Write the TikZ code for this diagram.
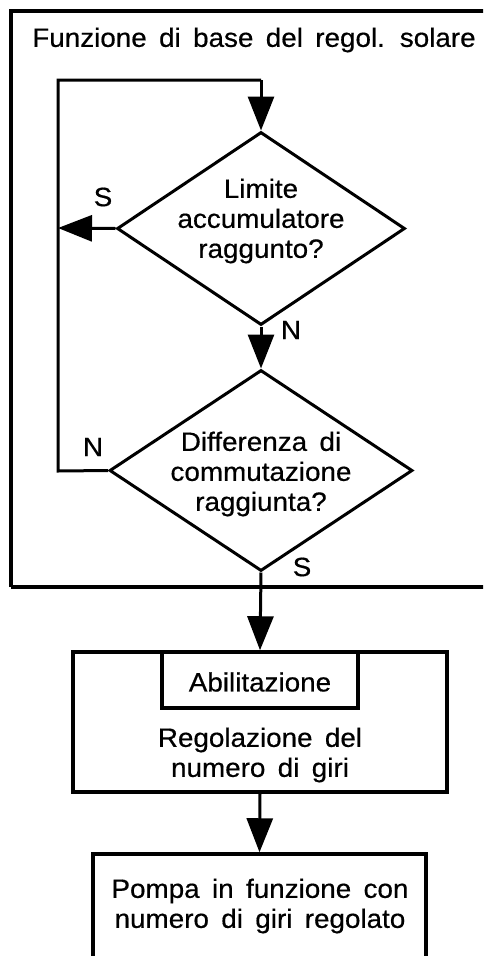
\documentclass[tikz,border=0pt]{standalone}
\usepackage{fontspec}
\setmainfont{Liberation Sans}[FakeStretch=1.05, WordSpace=1.6, FakeBold=0.5]
\usetikzlibrary{arrows.meta,shapes.geometric}
\begin{document}
\begin{tikzpicture}[x=1pt,y=-1pt,
  txt/.style={font=\fontsize{26.5}{30}\selectfont, align=center, inner sep=0pt},
  diam/.style={draw, diamond, line width=3pt, inner sep=0pt, minimum width=#1},
  blockbox/.style={draw, rectangle, line width=3.5pt, inner sep=0pt},
  conn/.style={line width=3pt},
  arr/.style={line width=3pt, -{Triangle[length=34pt,width=26pt]}}]
\useasboundingbox (0,0) rectangle (483,956);
\clip (0,0) rectangle (483,956);
% outer frame
\draw[line width=4pt] (11,587) -- (11,11) -- (520,11);
\draw[line width=4pt] (11,587) -- (520,587);
\node[txt] (title) at (254,40) {Funzione di base del regol. solare};
% diamonds
\node[diam=288pt, minimum height=193pt] (d1) at (261,228.5) {};
\node[txt] (d1t) at (261,221) {Limite\\accumulatore\\raggunto?};
\node[diam=303pt, minimum height=201pt] (d2) at (261,470.5) {};
\node[txt] (d2t) at (261,474) {Differenza di\\commutazione\\raggiunta?};
% boxes
\node[blockbox, minimum width=374pt, minimum height=140pt] (b3) at (260,722) {};
\node[blockbox, minimum width=196pt, minimum height=56pt] (b3i) at (260,680) {};
\node[txt] (b3it) at (260,682) {Abilitazione};
\node[txt] (b3t) at (260,755) {Regolazione del\\numero di giri};
\node[blockbox, minimum width=333pt, minimum height=200pt] (b4) at (259.5,954) {};
\node[txt] (b4t) at (260,906) {Pompa in funzione con\\numero di giri regolato};
% coordinates
\coordinate (ls) at (58,228);
\coordinate (ln) at (58,471);
\coordinate (lt) at (58,80);
\coordinate (rt) at (261,80);
% connectors
\draw[arr] (d1.west) -- (ls);
\draw[conn] (d2.west) -- (ln) -- (lt) -- (rt);
\draw[arr] (rt) -- (d1.north);
\draw[arr] (d1.south) -- (d2.north);
\draw[arr] (d2.south) -- (b3.north);
\draw[arr] (b3.south) -- (b4.north);
% labels
\node[txt] (s1) at (103,197) {S};
\node[txt] (n1) at (291,330) {N};
\node[txt] (n2) at (93,447) {N};
\node[txt] (s2) at (302,567) {S};
\end{tikzpicture}
\end{document}
